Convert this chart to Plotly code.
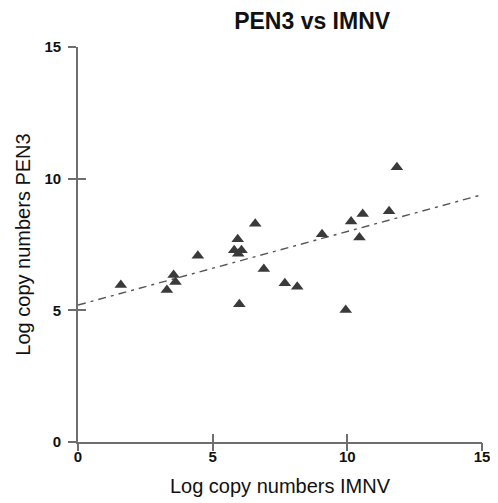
import plotly.graph_objects as go

# Data
imnv = [1.59, 3.30, 3.55, 3.62, 4.45, 5.80, 5.93, 6.07, 5.95, 5.99, 6.58, 6.90,
        7.68, 8.14, 9.06, 9.94, 10.14, 10.45, 10.57, 11.55, 11.84]
pen3 = [5.96, 5.77, 6.34, 6.08, 7.07, 7.28, 7.70, 7.28, 7.15, 5.23, 8.29, 6.57,
        6.03, 5.90, 7.89, 5.01, 8.37, 7.77, 8.66, 8.76, 10.43]

fit_x = [0, 15]
fit_y = [5.20, 9.39]

x_ticks = [0, 5, 10, 15]
y_ticks = [0, 5, 10, 15]

font_family = "Liberation Sans, Arial, sans-serif"
axis_color = "#6e6e6e"

# page body has an 8px default margin, so the figure is 8px smaller than the window
W, H = 490, 495

fig = go.Figure()
fig.add_trace(go.Scatter(
    x=fit_x, y=fit_y, mode="lines",
    line=dict(color="#555555", width=1.4, dash="8px,5px,3px,5px"),
    showlegend=False, hoverinfo="skip"))
fig.add_trace(go.Scatter(
    x=imnv, y=pen3, mode="markers",
    marker=dict(symbol="triangle-up", size=11, color="#3a3a3a"),
    showlegend=False))
# invisible trace on overlay axes so that the second half of the crossing ticks is drawn
fig.add_trace(go.Scatter(x=[None], y=[None], xaxis="x2", yaxis="y2",
                         showlegend=False, hoverinfo="skip"))

tick_font = dict(size=15, color="#111111", weight="bold")

fig.update_layout(
    width=W, height=H,
    margin=dict(l=70, r=16, t=39, b=61, autoexpand=False),
    paper_bgcolor="white", plot_bgcolor="white",
    font=dict(family=font_family, color="#111111"),
    title=dict(text="<b>PEN3 vs IMNV</b>", x=284 / W, xanchor="center",
               y=1 - 13 / H, yanchor="middle", xref="paper",
               font=dict(size=23, color="#111111")),
    xaxis=dict(range=[0, 15], tickvals=x_ticks, showgrid=False, zeroline=False,
               tickcolor=axis_color, tickwidth=1.5, ticklen=8, automargin=False,
               ticks="inside", showline=True, linecolor=axis_color,
               linewidth=1.8, tickfont=tick_font,
               title=dict(text="Log copy numbers IMNV", font=dict(size=20), standoff=15)),
    yaxis=dict(range=[0, 15], tickvals=y_ticks, showgrid=False, zeroline=False,
               tickcolor=axis_color, tickwidth=1.5, ticklen=8, automargin=False,
               ticks="outside", showline=True, linecolor=axis_color,
               linewidth=1.8, tickfont=tick_font, ticklabelstandoff=4,
               title=dict(text="Log copy numbers PEN3", font=dict(size=20), standoff=8)),
    xaxis2=dict(range=[0, 15], tickvals=x_ticks, overlaying="x", side="bottom",
                anchor="y2", ticks="outside", ticklen=8, tickwidth=1.5,
                tickcolor=axis_color, showticklabels=False, showline=False,
                showgrid=False, zeroline=False, automargin=False),
    yaxis2=dict(range=[0, 15], tickvals=y_ticks, overlaying="y", side="left",
                anchor="x2", ticks="inside", ticklen=8, tickwidth=1.5,
                tickcolor=axis_color, showticklabels=False, showline=False,
                showgrid=False, zeroline=False, automargin=False),
)

fig.write_html("out.html")
